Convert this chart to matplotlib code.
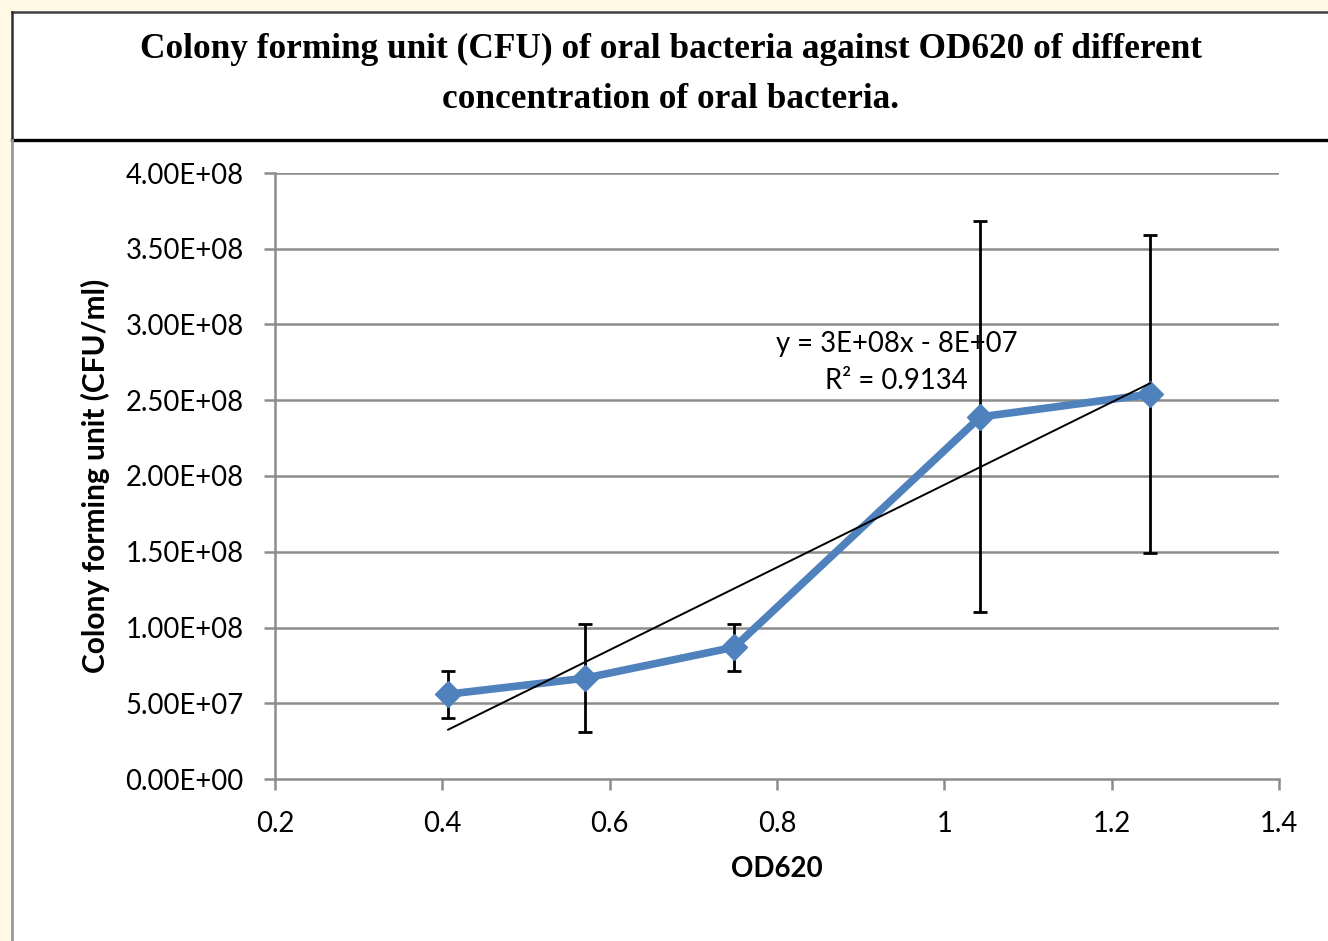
import numpy as np
import matplotlib
matplotlib.use("Agg")
import matplotlib.pyplot as plt
from matplotlib.lines import Line2D
from matplotlib.patches import Rectangle

# Data
od620 = [0.407, 0.570, 0.749, 1.043, 1.246]
cfu = [5.6e7, 6.65e7, 8.7e7, 2.39e8, 2.54e8]
cfu_err = [1.55e7, 3.55e7, 1.55e7, 1.29e8, 1.05e8]
y_ticks = [0, 0.5e8, 1.0e8, 1.5e8, 2.0e8, 2.5e8, 3.0e8, 3.5e8, 4.0e8]
x_ticks = [0.2, 0.4, 0.6, 0.8, 1.0, 1.2, 1.4]
x_tick_labels = ["0.2", "0.4", "0.6", "0.8", "1", "1.2", "1.4"]
title_text = "Colony forming unit (CFU) of oral bacteria against OD620 of different\nconcentration of oral bacteria."
eq_text = "y = 3E+08x - 8E+07\nR² = 0.9134"

W, H = 1328, 941
fig = plt.figure(figsize=(W / 100, H / 100), dpi=100)
fig.patch.set_facecolor("#FFF9E6")

# White page box
fig.patches.append(Rectangle((11.5 / W, 0), 1, 1 - 11.5 / H, transform=fig.transFigure,
                             facecolor="white", edgecolor="none", zorder=-5))
# Borders
fig.lines.append(Line2D([11.5 / W, 1], [1 - 11.5 / H, 1 - 11.5 / H], transform=fig.transFigure,
                        color="#404040", lw=1.8, zorder=-4))
fig.lines.append(Line2D([11.5 / W, 11.5 / W], [1 - 11.5 / H, 1 - 139.5 / H], transform=fig.transFigure,
                        color="#303030", lw=1.8, zorder=-4))
fig.lines.append(Line2D([11.5 / W, 1], [1 - 139.5 / H, 1 - 139.5 / H], transform=fig.transFigure,
                        color="black", lw=2.4, zorder=-4))
fig.lines.append(Line2D([11.5 / W, 11.5 / W], [1 - 139.5 / H, 0], transform=fig.transFigure,
                        color="#999999", lw=2.0, zorder=-4))

fig.text(671 / W, 1 - 74.5 / H, title_text, ha="center", va="center",
         family="Liberation Serif", weight="bold", fontsize=25.4, linespacing=1.65)

ax = fig.add_axes([275 / W, 1 - 779 / H, (1279 - 275) / W, (779 - 173) / H])
ax.set_facecolor("white")
ax.set_xlim(0.2, 1.4)
ax.set_ylim(0, 4.0e8)

grid_c = "#8C8C8C"
for yt in y_ticks[1:]:
    ax.axhline(yt, color=grid_c, lw=1.8, zorder=1)

for s in ["top", "right"]:
    ax.spines[s].set_visible(False)
for s in ["left", "bottom"]:
    ax.spines[s].set_color(grid_c)
    ax.spines[s].set_linewidth(1.8)

ax.set_yticks(y_ticks)
ax.set_yticklabels(["%.2E" % v for v in y_ticks])
ax.set_xticks(x_ticks)
ax.set_xticklabels(x_tick_labels)
ax.tick_params(axis="both", colors=grid_c, width=1.8, length=8, labelcolor="black",
               labelsize=19.8)
ax.tick_params(axis="y", pad=14.5)
ax.tick_params(axis="x", pad=15)
for lab in ax.get_xticklabels() + ax.get_yticklabels():
    lab.set_family("Lato")

# Error bars
ax.errorbar(od620, cfu, yerr=cfu_err, fmt="none", ecolor="black", elinewidth=2.0,
            capsize=5.2, capthick=2.0, zorder=3)
# Data line
ax.plot(od620, cfu, color="#4F81BD", lw=5.5, marker="D", markersize=13,
        markeredgecolor="#4F81BD", markerfacecolor="#4F81BD", zorder=4)
# Linear trendline
coef = np.polyfit(od620, cfu, 1)
xs = np.array([min(od620), max(od620)])
ax.plot(xs, np.polyval(coef, xs), color="black", lw=1.4, zorder=5)

ax.text(0.943, 2.75e8, eq_text, ha="center", va="center", family="Lato",
        fontsize=19.8, linespacing=1.55, zorder=6)

ax.set_xlabel("OD620", family="Lato", weight="bold", fontsize=20, labelpad=14)
ax.set_ylabel("Colony forming unit (CFU/ml)", family="Lato", weight="bold", fontsize=21.5,
              labelpad=11)

fig.savefig("out.png", dpi=100, facecolor=fig.get_facecolor())
